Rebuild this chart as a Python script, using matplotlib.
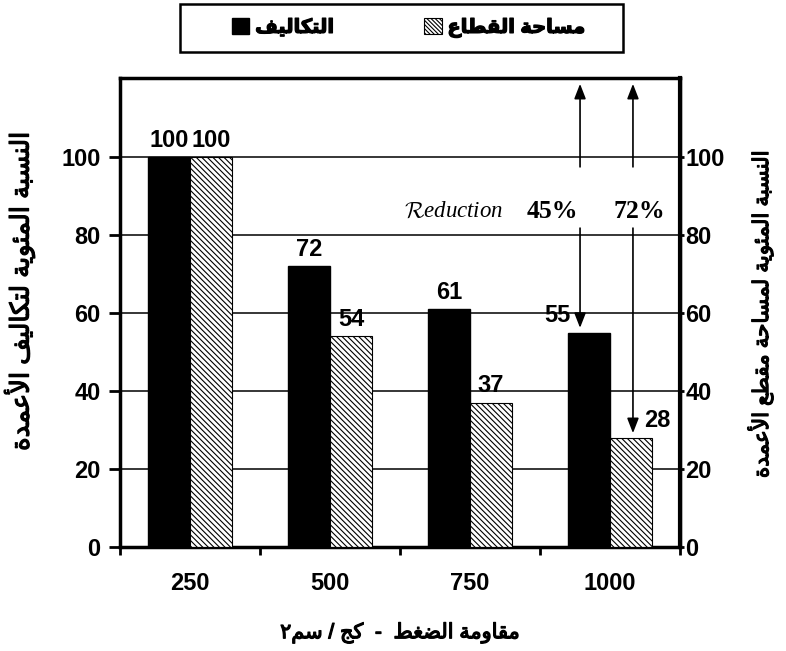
import numpy as np
import matplotlib
matplotlib.use("Agg")
import matplotlib.pyplot as plt
import matplotlib.patheffects as pe
from matplotlib.patches import Patch, Rectangle

# --- data ---
strengths = ["250", "500", "750", "1000"]          # kg/cm2
cost_pct = [100, 72, 61, 55]                       # التكاليف
area_pct = [100, 54, 37, 28]                       # مساحة القطاع
reduction_labels = ["45%", "72%"]

legend_cost = "التكاليف"
legend_area = "مساحة القطاع"
ylabel_left = "النسبة المئوية لتكاليف الأعمدة"
ylabel_right = "النسبة المئوية لمساحة مقطع الأعمدة"
xlabel_text = "مقاومة الضغط  -  كج / سم٢"

# --- minimal arabic shaping (matplotlib has no RTL/joining support) ---
# (isolated, final, initial, medial)
FORMS = {
    "ا": ("\uFE8D", "\uFE8E", None, None),
    "أ": ("\uFE83", "\uFE84", None, None),
    "ب": ("\uFE8F", "\uFE90", "\uFE91", "\uFE92"),
    "ة": ("\uFE93", "\uFE94", None, None),
    "ت": ("\uFE95", "\uFE96", "\uFE97", "\uFE98"),
    "ج": ("\uFE9D", "\uFE9E", "\uFE9F", "\uFEA0"),
    "ح": ("\uFEA1", "\uFEA2", "\uFEA3", "\uFEA4"),
    "د": ("\uFEA9", "\uFEAA", None, None),
    "س": ("\uFEB1", "\uFEB2", "\uFEB3", "\uFEB4"),
    "ض": ("\uFEBD", "\uFEBE", "\uFEBF", "\uFEC0"),
    "ط": ("\uFEC1", "\uFEC2", "\uFEC3", "\uFEC4"),
    "ع": ("\uFEC9", "\uFECA", "\uFECB", "\uFECC"),
    "غ": ("\uFECD", "\uFECE", "\uFECF", "\uFED0"),
    "ف": ("\uFED1", "\uFED2", "\uFED3", "\uFED4"),
    "ق": ("\uFED5", "\uFED6", "\uFED7", "\uFED8"),
    "ك": ("\uFED9", "\uFEDA", "\uFEDB", "\uFEDC"),
    "ل": ("\uFEDD", "\uFEDE", "\uFEDF", "\uFEE0"),
    "م": ("\uFEE1", "\uFEE2", "\uFEE3", "\uFEE4"),
    "ن": ("\uFEE5", "\uFEE6", "\uFEE7", "\uFEE8"),
    "و": ("\uFEED", "\uFEEE", None, None),
    "ي": ("\uFEF1", "\uFEF2", "\uFEF3", "\uFEF4"),
    "ئ": ("\uFE89", "\uFE8A", "\uFE8B", "\uFE8C"),
    "لا": ("\uFEFB", "\uFEFC", None, None),
    "لأ": ("\uFEF7", "\uFEF8", None, None),
}


def shape(text):
    tokens = []
    i = 0
    while i < len(text):
        if text[i] == "ل" and i + 1 < len(text) and text[i + 1] in "اأ":
            tokens.append(text[i:i + 2])
            i += 2
        else:
            tokens.append(text[i])
            i += 1
    out = []
    for k, tok in enumerate(tokens):
        if tok not in FORMS:
            out.append(tok)
            continue
        prev = tokens[k - 1] if k > 0 else None
        nxt = tokens[k + 1] if k + 1 < len(tokens) else None
        conn_prev = prev in FORMS and FORMS[prev][2] is not None
        conn_next = nxt in FORMS and FORMS[tok][2] is not None
        iso, fin, ini, med = FORMS[tok]
        if conn_prev and conn_next:
            out.append(med)
        elif conn_prev:
            out.append(fin)
        elif conn_next:
            out.append(ini)
        else:
            out.append(iso)
    return "".join(reversed(out))


plt.rcParams["font.family"] = ["Liberation Sans", "DejaVu Sans"]
plt.rcParams["font.weight"] = "bold"
plt.rcParams["hatch.linewidth"] = 0.8
plt.rcParams["mathtext.fontset"] = "cm"

# the arabic glyphs only exist in the regular face, thicken them a bit
fake_bold = [pe.withStroke(linewidth=0.9, foreground="black")]

fig = plt.figure(figsize=(7.86, 6.51), dpi=100)
ax = fig.add_axes([120 / 786, 104 / 651, 560 / 786, 469 / 651])

x = np.arange(len(strengths))
w = 0.3
ax.bar(x - w / 2, cost_pct, w, color="black", edgecolor="black", zorder=3)
ax.bar(x + w / 2, area_pct, w, color="white", edgecolor="black",
       hatch="\\" * 6, linewidth=0.8, zorder=3)

ax.set_xlim(-0.5, len(strengths) - 0.5)
ax.set_ylim(0, 120.3)
ax.set_yticks(range(0, 101, 20))
ax.yaxis.grid(True, color="black", linewidth=1.1, zorder=0)
ax.set_axisbelow(True)

# x ticks on category borders, labels at centres
ax.set_xticks(np.arange(-0.5, len(strengths)), labels=[])
ax.set_xticks(x, labels=strengths, minor=True)
ax.tick_params(axis="x", which="major", direction="out", length=6, width=2)
ax.tick_params(axis="x", which="minor", length=0, pad=18, labelsize=17)
ax.tick_params(axis="y", direction="out", length=8, width=2, pad=6, labelsize=17)

for s in ax.spines.values():
    s.set_linewidth(2.5)

ax2 = ax.twinx()
ax2.set_ylim(ax.get_ylim())
ax2.set_yticks(range(0, 101, 20))
ax2.tick_params(axis="y", length=3, width=2, pad=1, labelsize=17)
ax2.spines["right"].set_linewidth(3)

# value labels
for i in range(len(strengths)):
    dx_c = -23 if i == 3 else 0
    dx_a = 19 if i == 3 else 0
    ax.annotate(str(cost_pct[i]), (x[i] - w / 2, cost_pct[i]), xytext=(dx_c, 4),
                textcoords="offset points", ha="center", va="bottom", fontsize=17, zorder=5)
    ax.annotate(str(area_pct[i]), (x[i] + w / 2, area_pct[i]), xytext=(dx_a, 4),
                textcoords="offset points", ha="center", va="bottom", fontsize=17, zorder=5)

# reduction arrows
arrow_x = [2.786, 3.164]
arrow_tip = [cost_pct[3], area_pct[3]]
aprops = dict(arrowstyle="-|>,head_length=0.9,head_width=0.35", color="black", lw=1.2,
              shrinkA=0, shrinkB=0)
for ax_x, tip in zip(arrow_x, arrow_tip):
    ax.annotate("", xy=(ax_x, 118.8), xytext=(ax_x, 97.5), arrowprops=aprops, zorder=6)
    ax.annotate("", xy=(ax_x, tip + 1.2), xytext=(ax_x, 81.8), arrowprops=aprops, zorder=6)

ax.text(1.88, 86, r"$\mathcal{R}$eduction", fontsize=16.5, family="Liberation Serif",
        style="italic", weight="normal", ha="center", va="center")
for lbl, tx in zip(reduction_labels, [2.586, 3.207]):
    ax.text(tx, 86, lbl, fontsize=18.5, family="Liberation Serif", weight="bold",
            ha="center", va="center")

# axis titles
ax.set_xlabel(shape(xlabel_text), fontsize=15, va="center", path_effects=fake_bold)
ax.xaxis.set_label_coords(0.5, -0.183)
ax.set_ylabel(shape(ylabel_left), fontsize=18.5, va="center", path_effects=fake_bold)
ax.yaxis.set_label_coords(-0.18, 0.546)
ax2.set_ylabel(shape(ylabel_right), fontsize=15.5, va="center", rotation=90,
               path_effects=fake_bold)
ax2.yaxis.set_label_coords(1.143, 0.495)

# legend: frame drawn separately so the entries can sit off-centre like the original
fig.patches.append(Rectangle((180 / 786, 1 - 52 / 651), 443 / 786, 48 / 651,
                             transform=fig.transFigure, facecolor="white",
                             edgecolor="black", linewidth=1.8))
handles = [Patch(facecolor="black", edgecolor="black"),
           Patch(facecolor="white", edgecolor="black", hatch="\\" * 8, linewidth=0.8)]
leg = fig.legend(handles, [shape(legend_cost), shape(legend_area)], ncol=2,
                 loc="center", bbox_to_anchor=(409 / 786, 1 - 28 / 651),
                 fontsize=14, frameon=False,
                 handlelength=0.9, handleheight=0.9, handletextpad=0.3,
                 columnspacing=4.6)
for t in leg.get_texts():
    t.set_path_effects(fake_bold)

fig.savefig("out.png", dpi=100)
